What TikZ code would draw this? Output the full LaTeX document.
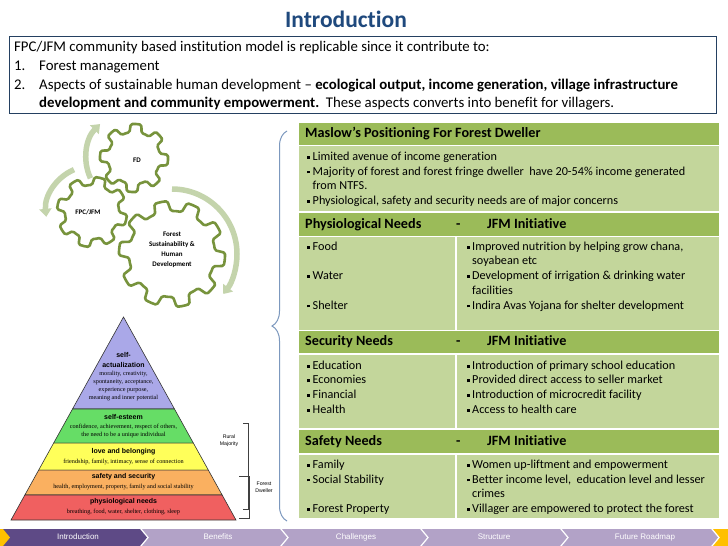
\documentclass[tikz,border=0pt]{standalone}
\usepackage{fontspec}
\setmainfont{Carlito}[Ligatures=NoCommon]
\newfontfamily\pyrsans{Liberation Sans}
\newfontfamily\pyrserif{Liberation Serif}
\usetikzlibrary{arrows.meta,calc,positioning,decorations.pathreplacing}
\definecolor{titleblue}{RGB}{31,73,125}
\definecolor{boxline}{RGB}{36,64,97}
\definecolor{hdrgreen}{RGB}{155,187,89}
\definecolor{cellgreen}{RGB}{195,214,155}
\definecolor{geargreen}{RGB}{119,147,60}
\definecolor{arcgreen}{RGB}{196,212,172}
\definecolor{bracecol}{RGB}{124,152,190}
\definecolor{navdark}{RGB}{94,74,134}
\definecolor{navlight}{RGB}{178,162,199}
\definecolor{navyellow}{RGB}{255,192,0}
\definecolor{pyrviolet}{RGB}{170,168,232}
\definecolor{pyrgreen}{RGB}{102,221,102}
\definecolor{pyryellow}{RGB}{255,255,90}
\definecolor{pyrorange}{RGB}{250,176,96}
\definecolor{pyrred}{RGB}{240,96,96}
\newcommand{\sqb}{\makebox[5.5pt][l]{\rule[0.28ex]{2.8pt}{2.8pt}}}
\newcommand{\gearpath}[4]{% teeth, root radius, tip radius, phase
  (#4:#2pt)
  \foreach \k [evaluate=\k as \a using {#4+(\k-1)*360/#1}] in {1,...,#1}{
    arc[start angle=\a, end angle=\a+144/#1, radius=#2pt]
    -- (\a+180/#1:#3pt)
    arc[start angle=\a+180/#1, end angle=\a+324/#1, radius=#3pt]
    -- (\a+360/#1:#2pt)
  } -- cycle}
\tikzset{
  introbox/.style={draw=boxline, line width=1.2pt, anchor=north west,
    inner sep=0pt, minimum width=707pt, minimum height=77pt},
  introtext/.style={anchor=base west, inner sep=0pt,
    font=\fontsize{14.8}{17}\selectfont},
  hdrrow/.style={fill=hdrgreen, anchor=north west, inner sep=0pt,
    minimum width=420pt},
  cellrow/.style={fill=cellgreen, anchor=north west, inner sep=0pt,
    minimum width=420pt},
  hdrtext/.style={anchor=west, inner sep=0pt, text height=10pt,
    text depth=3pt, font=\fontsize{14.2}{16}\selectfont\bfseries},
  celltext/.style={anchor=base west, align=left, inner sep=0pt,
    font=\fontsize{12.2}{14.7}\selectfont},
  divider/.style={white, line width=1.5pt},
  gearline/.style={draw=geargreen, line width=2.6pt, fill=white,
    line join=round, rounded corners=1.5pt},
  geartext/.style={align=center, inner sep=0pt,
    font=\fontsize{7}{10}\selectfont\bfseries},
  cyclearrow/.style={arcgreen, line width=5.5pt,
    -{Triangle[width=12pt,length=8pt]}},
  pyrhead/.style={align=center, inner sep=0pt,
    font=\pyrsans\fontsize{7}{9.5}\selectfont\bfseries},
  pyrsub/.style={align=center, inner sep=0pt,
    font=\pyrserif\fontsize{6.2}{8}\selectfont},
  bracket/.style={black!75, line width=0.8pt},
  bracketlabel/.style={align=center, inner sep=0pt,
    font=\pyrsans\fontsize{5.2}{7}\selectfont},
  navtext/.style={text=white, inner sep=0pt, text height=6pt,
    text depth=1.6pt, font=\pyrsans\fontsize{8}{9}\selectfont}
}

\begin{document}
\begin{tikzpicture}[x=1pt,y=-1pt]
\fill[white] (0,0) rectangle (728,546);
\useasboundingbox (0,0) rectangle (728,546);

% title and intro box
\node[font=\fontsize{23.5}{26}\selectfont\bfseries, text=titleblue] (title)
  at (346,19) {Introduction};
\node[introbox] (intro) at (9,36) {};
\node[introtext] (line1) at (14,51.5)
  {FPC/JFM community based institution model is replicable since it contribute to:};
\node[introtext] (num1) at (14,70.5) {1.};
\node[introtext] (item1) at (39,70.5) {Forest management};
\node[introtext] (num2) at (14,89.5) {2.};
\node[introtext] (item2) at (39,89.5)
  {Aspects of sustainable human development -- \textbf{ecological output, income generation, village infrastructure}};
\node[introtext] (item2b) at (39,107.5)
  {\textbf{development and community empowerment.}\ \ These aspects converts into benefit for villagers.};

% gears
\coordinate (fdc) at (134,158);
\coordinate (jfmc) at (92,212);
\coordinate (sustc) at (172,254);
\draw[cyclearrow] ([shift={(205:48pt)}]fdc) arc[start angle=205, end angle=135, radius=48pt];
\draw[cyclearrow] ([shift={(113:46pt)}]jfmc) arc[start angle=113, end angle=186, radius=46pt];
\draw[cyclearrow] ([shift={(90:65pt)}]sustc) arc[start angle=90, end angle=-38, radius=65pt];
\draw[gearline, shift={(fdc)}] \gearpath{8}{26}{34}{10};
\draw[gearline, shift={(jfmc)}] \gearpath{8}{27}{35}{0};
\draw[gearline, shift={(sustc)}] \gearpath{10}{43}{53}{5};
\node[geartext] (fd) at (137,160) {FD};
\node[geartext] (jfm) at (88,212) {FPC/JFM};
\node[geartext] (sust) at (172,250) {Forest\\Sustainability \&\\Human\\Development};

% maslow pyramid
\coordinate (apex) at (123.5,317);
\coordinate (pyrl) at (11,520);
\coordinate (pyrr) at (236,520);
\foreach \t/\b/\c in {0/0.453/pyrviolet, 0.453/0.621/pyrgreen,
    0.621/0.754/pyryellow, 0.754/0.877/pyrorange, 0.877/1/pyrred}
  \filldraw[fill=\c, draw=black!80, line width=0.6pt]
    ($(apex)!\t!(pyrl)$) -- ($(apex)!\b!(pyrl)$) --
    ($(apex)!\b!(pyrr)$) -- ($(apex)!\t!(pyrr)$) -- cycle;
\node[pyrhead] (actual) at (123.5,360) {self-\\actualization};
\node[pyrsub] (actualsub) at (123.5,386)
  {morality, creativity,\\spontaneity, acceptance,\\experience purpose,\\meaning and inner potential};
\node[pyrhead] (esteem) at (123.5,417) {self-esteem};
\node[pyrsub] (esteemsub) at (123.5,431)
  {confidence, achievement, respect of others,\\the need to be a unique individual};
\node[pyrhead] (love) at (123.5,452) {love and belonging};
\node[pyrsub] (lovesub) at (123.5,461.5) {friendship, family, intimacy, sense of connection};
\node[pyrhead] (safety) at (123.5,477) {safety and security};
\node[pyrsub] (safetysub) at (123.5,487) {health, employment, property, family and social stability};
\node[pyrhead] (physio) at (123.5,502) {physiological needs};
\node[pyrsub] (physiosub) at (123.5,511.5) {breathing, food, water, shelter, clothing, sleep};

% brackets
\draw[bracket] (243,423) -- (248,423) -- (248,509) -- (243,509);
\draw[bracket] (239,476) -- (249.5,476) -- (249.5,518) -- (239,518);
\node[bracketlabel] (rural) at (229,441) {Rural\\Majority};
\node[bracketlabel] (dweller) at (264,487) {Forest\\Dweller};
\draw[bracecol, line width=1pt, decorate, decoration={brace, amplitude=15pt}]
  (287,521) -- (287,131);

% table
\node[hdrrow, minimum height=22pt] (maslowhd) at (299,123) {};
\node[cellrow, minimum height=65pt] (maslowbd) at (299,146) {};
\node[hdrrow, minimum height=23pt] (physhd) at (299,213) {};
\node[cellrow, minimum height=93pt] (physbd) at (299,237) {};
\node[hdrrow, minimum height=22pt] (sechd) at (299,331) {};
\node[cellrow, minimum height=73pt] (secbd) at (299,355) {};
\node[hdrrow, minimum height=23pt] (safehd) at (299,430) {};
\node[cellrow, minimum height=63pt] (safebd) at (299,455) {};
\coordinate (colsplit) at (456,0);
\coordinate (dashcol) at (456,0);
\coordinate (jfmcol) at (487,0);
\draw[divider] (physbd.north -| colsplit) -- (physbd.south -| colsplit);
\draw[divider] (secbd.north -| colsplit) -- (secbd.south -| colsplit);
\draw[divider] (safebd.north -| colsplit) -- (safebd.south -| colsplit);

\node[hdrtext] (maslowt) at ([xshift=6pt]maslowhd.west) {Maslow’s Positioning For Forest Dweller};
\node[celltext] (maslowlist) at (307,204.5)
  {\sqb Limited avenue of income generation\\
   \sqb Majority of forest and forest fringe dweller\ \ have 20-54\% income generated\\
   \hspace*{5.5pt}from NTFS.\\
   \sqb Physiological, safety and security needs are of major concerns};

\node[hdrtext] (physt) at ([xshift=6pt]physhd.west) {Physiological Needs};
\node[hdrtext] (physdash) at (physhd.west -| dashcol) {-};
\node[hdrtext] (physjfm) at (physhd.west -| jfmcol) {JFM Initiative};
\node[celltext] (physneeds) at (307,309)
  {\sqb Food\\[14.7pt]\sqb Water\\[14.7pt]\sqb Shelter};
\node[celltext] (physinit) at (466.5,309)
  {\sqb Improved nutrition by helping grow chana,\\
   \hspace*{5.5pt}soyabean etc\\
   \sqb Development of irrigation \& drinking water\\
   \hspace*{5.5pt}facilities\\
   \sqb Indira Avas Yojana for shelter development};

\node[hdrtext] (sect) at ([xshift=6pt]sechd.west) {Security Needs};
\node[hdrtext] (secdash) at (sechd.west -| dashcol) {-};
\node[hdrtext] (secjfm) at (sechd.west -| jfmcol) {JFM Initiative};
\node[celltext] (secneeds) at (307,413.3)
  {\sqb Education\\\sqb Economies\\\sqb Financial\\\sqb Health};
\node[celltext] (secinit) at (466.5,413.3)
  {\sqb Introduction of primary school education\\
   \sqb Provided direct access to seller market\\
   \sqb Introduction of microcredit facility\\
   \sqb Access to health care};

\node[hdrtext] (safet) at ([xshift=6pt]safehd.west) {Safety Needs};
\node[hdrtext] (safedash) at (safehd.west -| dashcol) {-};
\node[hdrtext] (safejfm) at (safehd.west -| jfmcol) {JFM Initiative};
\node[celltext] (safeneeds) at (307,512.5)
  {\sqb Family\\\sqb Social Stability\\[14.7pt]\sqb Forest Property};
\node[celltext] (safeinit) at (466.5,512.5)
  {\sqb Women up-liftment and empowerment\\
   \sqb Better income level,\ \ education level and lesser\\
   \hspace*{5.5pt}crimes\\
   \sqb Villager are empowered to protect the forest};

% navigation bar
\fill[navdark] (0,529) -- (140,529) -- (147,537.5) -- (140,546) -- (0,546) -- cycle;
\fill[navyellow] (0,529) -- (3,529) -- (10,537.5) -- (3,546) -- (0,546) -- cycle;
\foreach \xa/\xb in {142/287, 282/427, 422/567, 562/718}
  \fill[navlight] (\xa,529) -- (\xb-7,529) -- (\xb,537.5) -- (\xb-7,546)
    -- (\xa,546) -- (\xa+7,537.5) -- cycle;
\fill[navyellow] (713,529) -- (728,529) -- (728,546) -- (713,546) -- (720,537.5) -- cycle;
\node[navtext] (navintro) at (78,537.5) {Introduction};
\node[navtext] (navbenefit) at (218,537.5) {Benefits};
\node[navtext] (navchallenge) at (356,537.5) {Challenges};
\node[navtext] (navstruct) at (494,537.5) {Structure};
\node[navtext] (navroad) at (645,537.5) {Future Roadmap};
\end{tikzpicture}
\end{document}
